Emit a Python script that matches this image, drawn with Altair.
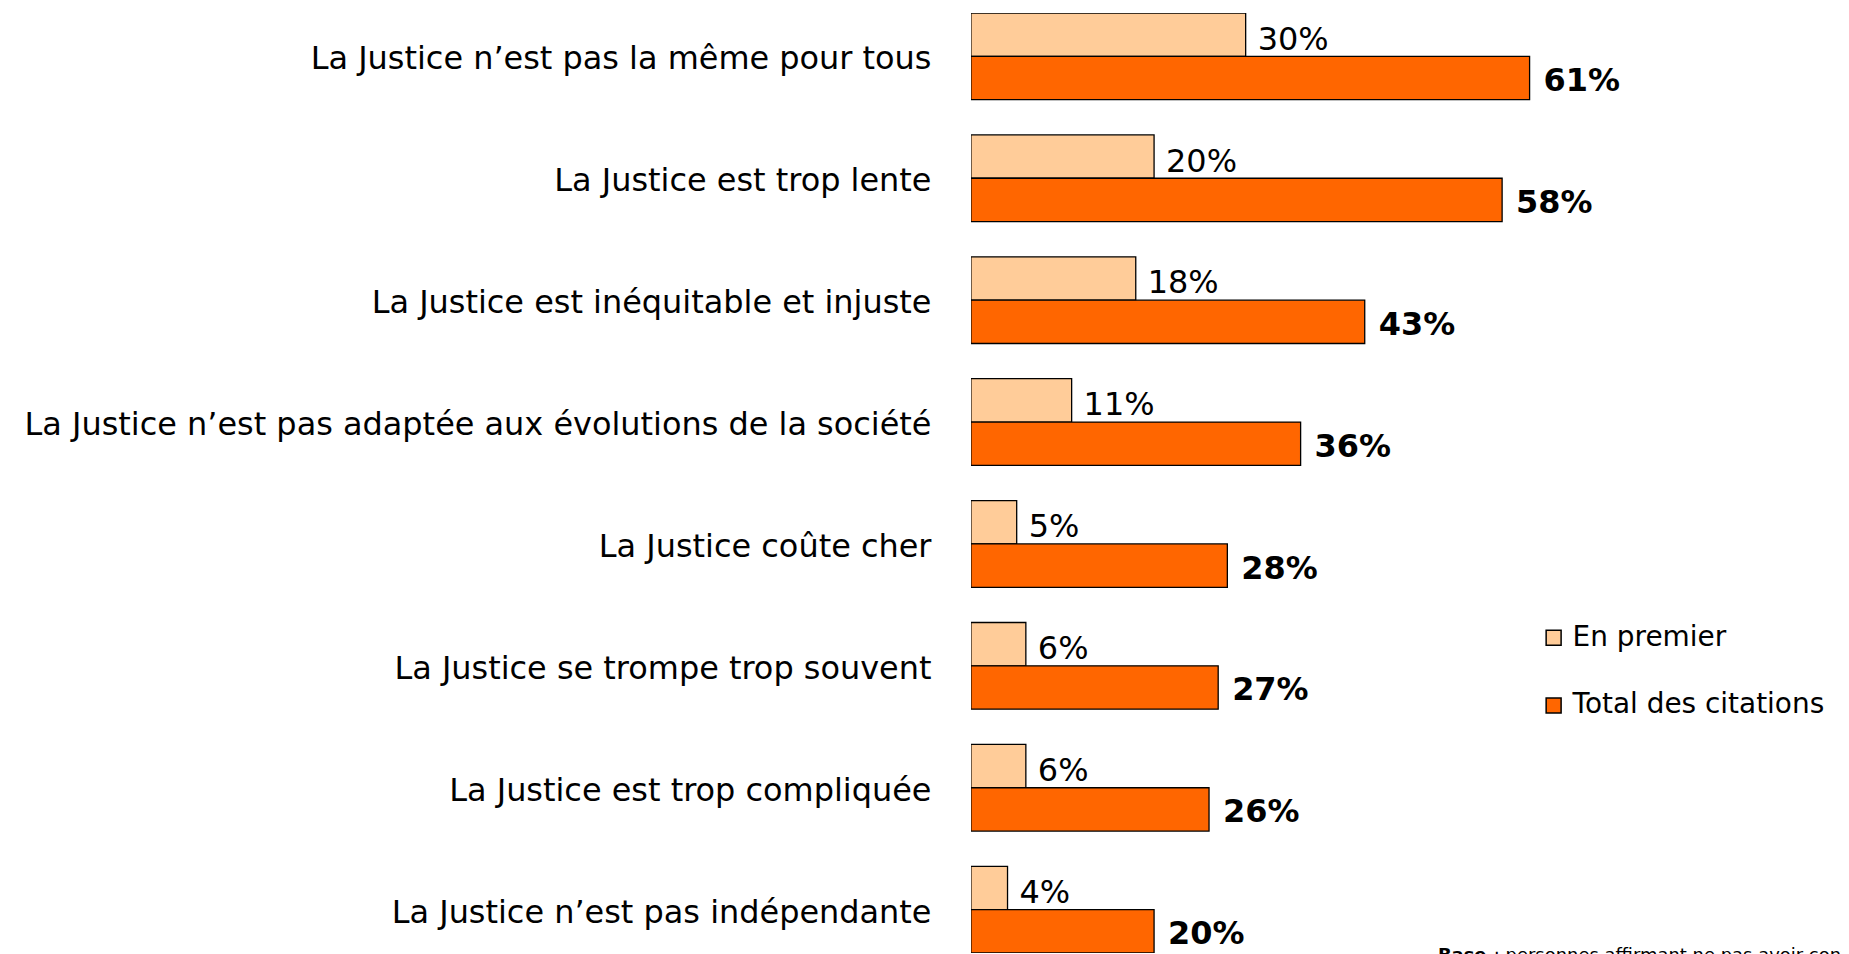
import altair as alt
import pandas as pd

categories = [
    "La Justice n’est pas la même pour tous",
    "La Justice est trop lente",
    "La Justice est inéquitable et injuste",
    "La Justice n’est pas adaptée aux évolutions de la société",
    "La Justice coûte cher",
    "La Justice se trompe trop souvent",
    "La Justice est trop compliquée",
    "La Justice n’est pas indépendante",
]
en_premier = [30, 20, 18, 11, 5, 6, 6, 4]
total_citations = [61, 58, 43, 36, 28, 27, 26, 20]
series = ["En premier", "Total des citations"]
colors = ["#FFCC99", "#FF6600"]
footnote_bold = "Base"
footnote_rest = ": personnes affirmant ne pas avoir confiance en la Justice"

rows = []
for c, a, b in zip(categories, en_premier, total_citations):
    rows.append({"cat": c, "series": series[0], "value": a, "label": f"{a}%"})
    rows.append({"cat": c, "series": series[1], "value": b, "label": f"{b}%"})
df = pd.DataFrame(rows)

FONT = "DejaVu Sans"
W, H = 872, 942
x_scale = alt.Scale(domain=[0, 95], nice=False, zero=True)
y_enc = alt.Y("cat:N", sort=categories, title=None,
              scale=alt.Scale(paddingInner=0.289, paddingOuter=0),
              axis=alt.Axis(domain=False, ticks=False, grid=False, labelFontSize=32, labelFont=FONT,
                            labelColor="black", labelPadding=40, labelLimit=2000,
                            labelOffset=3))
yoff = alt.YOffset("series:N", sort=series, scale=alt.Scale(paddingInner=0, paddingOuter=0))

base = alt.Chart(df)

bars = base.mark_bar(stroke="black", strokeWidth=1.3, clip=True).encode(
    y=y_enc,
    yOffset=yoff,
    x=alt.X("value:Q", scale=x_scale, axis=None),
    color=alt.Color("series:N", sort=series,
                    scale=alt.Scale(domain=series, range=colors),
                    legend=alt.Legend(title=None, orient="none", legendX=570, legendY=612,
                                      symbolType="square", symbolSize=225,
                                      symbolStrokeColor="black", symbolStrokeWidth=1.5,
                                      labelFontSize=28, labelFont=FONT, labelColor="black",
                                      labelLimit=1000,
                                      rowPadding=40, labelOffset=5)),
)

lab1 = base.transform_filter(alt.datum.series == series[0]).mark_text(
    align="left", baseline="middle", dx=12, dy=5, fontSize=32, font=FONT, color="black"
).encode(y=alt.Y("cat:N", sort=categories), yOffset=yoff,
         x=alt.X("value:Q", scale=x_scale), text="label:N")

lab2 = base.transform_filter(alt.datum.series == series[1]).mark_text(
    align="left", baseline="middle", dx=14, dy=3, fontSize=32, fontWeight="bold",
    font=FONT, color="black"
).encode(y=alt.Y("cat:N", sort=categories), yOffset=yoff,
         x=alt.X("value:Q", scale=x_scale), text="label:N")

foot1 = alt.Chart(pd.DataFrame({"t": [footnote_bold]})).mark_text(
    align="left", baseline="top", fontSize=18, fontWeight="bold", font=FONT, color="black"
).encode(x=alt.value(468), y=alt.value(936), text="t:N")
foot2 = alt.Chart(pd.DataFrame({"t": [footnote_rest]})).mark_text(
    align="left", baseline="top", fontSize=18, font=FONT, color="black"
).encode(x=alt.value(524), y=alt.value(936), text="t:N")

chart = alt.layer(bars, lab1, lab2, foot1, foot2).properties(
    width=W, height=H,
    autosize=alt.AutoSizeParams(type="none"),
    padding={"left": 965, "top": 4, "right": 0, "bottom": 0},
    background="white",
).configure_view(stroke=None).configure_axis(grid=False)

chart.save("out.html", embed_options={"renderer": "svg", "actions": False})
